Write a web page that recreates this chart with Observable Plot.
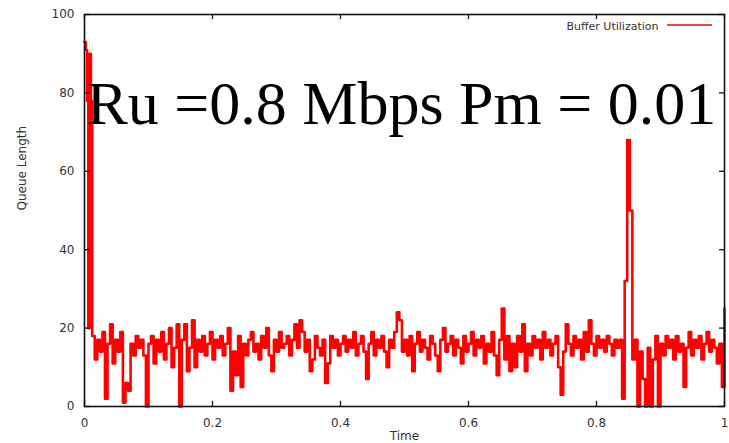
<!DOCTYPE html>
<html><head><meta charset="utf-8">
<script src="https://cdn.jsdelivr.net/npm/d3@7"></script>
<script src="https://cdn.jsdelivr.net/npm/@observablehq/plot@0.6"></script>
<style>html,body{margin:0;padding:0;background:#fff}</style>
</head><body><div id="chart"></div>
<script>
const title = "Ru =0.8 Mbps Pm = 0.01";
const seriesName = "Buffer Utilization";
const xLabel = "Time";
const yLabel = "Queue Length";
const xTicks = [0, 0.2, 0.4, 0.6, 0.8, 1];
const xTickLabels = ["0", "0.2", "0.4", "0.6", "0.8", "1"];
const yTicks = [0, 20, 40, 60, 80, 100];
const yTickLabels = ["0", "20", "40", "60", "80", "100"];

// initial burst
const startTimes = [0, 0.002, 0.004, 0.006, 0.008, 0.010];
const startQueue = [93, 91, 78, 20, 90, 78];

// sampled queue length after the burst
const sampleStart = 0.012;
const sampleStep = 0.004;
const sampledQueue = [
  18, 12, 17, 14, 19, 2, 16, 21, 11, 17, 14, 19, 1, 6, 4, 16, 13, 18, 15, 17, 13, 0, 16, 18, 11,
  17, 14, 19, 12, 16, 20, 10, 15, 21, 0, 17, 21, 9, 15, 22, 10, 17, 14, 18, 13, 16, 19, 12, 17, 15,
  18, 13, 16, 20, 4, 14, 8, 18, 5, 16, 13, 17, 19, 14, 16, 12, 18, 15, 20, 13, 9, 17, 14, 19, 15,
  16, 18, 13, 17, 21, 15, 22, 19, 14, 17, 9, 12, 18, 15, 13, 17, 6, 11, 18, 15, 17, 13, 16, 18, 14,
  17, 15, 19, 13, 16, 18, 14, 7, 16, 19, 13, 17, 15, 18, 14, 10, 17, 15, 19, 24, 22, 14, 17, 13, 18,
  9, 16, 19, 14, 17, 15, 12, 18, 16, 13, 9, 17, 20, 14, 16, 18, 13, 17, 15, 11, 18, 14, 16, 19, 13,
  17, 15, 18, 11, 16, 14, 19, 13, 8, 17, 25, 12, 18, 9, 16, 10, 18, 14, 21, 9, 16, 13, 18, 15, 17,
  12, 19, 15, 17, 13, 16, 18, 10, 3, 14, 21, 16, 13, 18, 15, 17, 12, 19, 14, 22, 16, 13, 18, 15, 17,
  14, 18, 16, 13, 17, 15, 17, 2, 32, 68, 50, 12, 17, 0, 14, 7, 0, 15, 0, 12, 18, 0, 16, 13, 18,
  15, 17, 12, 18, 14, 16, 5, 15, 19, 13, 17, 15, 18, 12, 16, 19, 14, 17, 15, 11, 16, 5, 25
];

const data = [
  ...startTimes.map((t, i) => ({t, q: startQueue[i]})),
  ...sampledQueue.map((q, i) => ({t: +(sampleStart + i * sampleStep).toFixed(4), q}))
];

const textColor = "#333";
const W = 729, H = 443, ML = 84, MR = 5, MT = 14, MB = 37;
const frameW = W - ML - MR, frameH = H - MT - MB;
const tickLen = 5;

function legendLine(index, scales, values, dims) {
  const xEnd = dims.width - dims.marginRight - 12;
  const y = dims.marginTop + 11;
  return d3.create("svg:line")
    .attr("x1", xEnd - 45).attr("x2", xEnd)
    .attr("y1", y).attr("y2", y)
    .attr("stroke", "red").attr("stroke-width", 1.5)
    .node();
}

const chart = Plot.plot({
  width: W,
  height: H,
  marginLeft: ML,
  marginRight: MR,
  marginTop: MT,
  marginBottom: MB,
  x: {domain: [0, 1], axis: null},
  y: {domain: [0, 100], axis: null},
  style: {fontFamily: "DejaVu Sans", fontSize: "12px", color: textColor, background: "white"},
  marks: [
    Plot.line(data, {x: "t", y: "q", stroke: "red", strokeWidth: 2.6, curve: "step-after"}),
    Plot.frame({stroke: "#111", strokeWidth: 1.6}),
    // inward ticks on all four sides (gnuplot style with mirror)
    Plot.ruleX(xTicks, {x: d => d, insetTop: frameH - tickLen, stroke: "#111", strokeWidth: 1.3}),
    Plot.ruleX(xTicks, {x: d => d, insetBottom: frameH - tickLen, stroke: "#111", strokeWidth: 1.3}),
    Plot.ruleY(yTicks, {y: d => d, insetRight: frameW - tickLen, stroke: "#111", strokeWidth: 1.3}),
    Plot.ruleY(yTicks, {y: d => d, insetLeft: frameW - tickLen, stroke: "#111", strokeWidth: 1.3}),
    Plot.axisX(xTicks, {anchor: "bottom", tickSize: 0, tickPadding: 12, tickFormat: d => xTickLabels[xTicks.indexOf(d)], label: null}),
    Plot.axisY(yTicks, {anchor: "left", tickSize: 0, tickPadding: 10, tickFormat: d => yTickLabels[yTicks.indexOf(d)], label: null}),
    Plot.text([xLabel], {frameAnchor: "bottom", dy: 25, lineAnchor: "top", fontSize: 12, fill: textColor}),
    Plot.text([yLabel], {frameAnchor: "left", dx: -62, rotate: -90, fontSize: 12, fill: textColor}),
    Plot.text([seriesName], {frameAnchor: "top-right", dx: -66, dy: 12, lineAnchor: "middle", textAnchor: "end", fontSize: 11, fill: textColor}),
    legendLine,
    Plot.text([title], {frameAnchor: "top-left", dx: 2, dy: 109, lineAnchor: "bottom", textAnchor: "start", fontSize: 62, fontFamily: "Liberation Serif", fill: "black"})
  ]
});
document.getElementById("chart").appendChild(chart);
</script>
</body></html>
